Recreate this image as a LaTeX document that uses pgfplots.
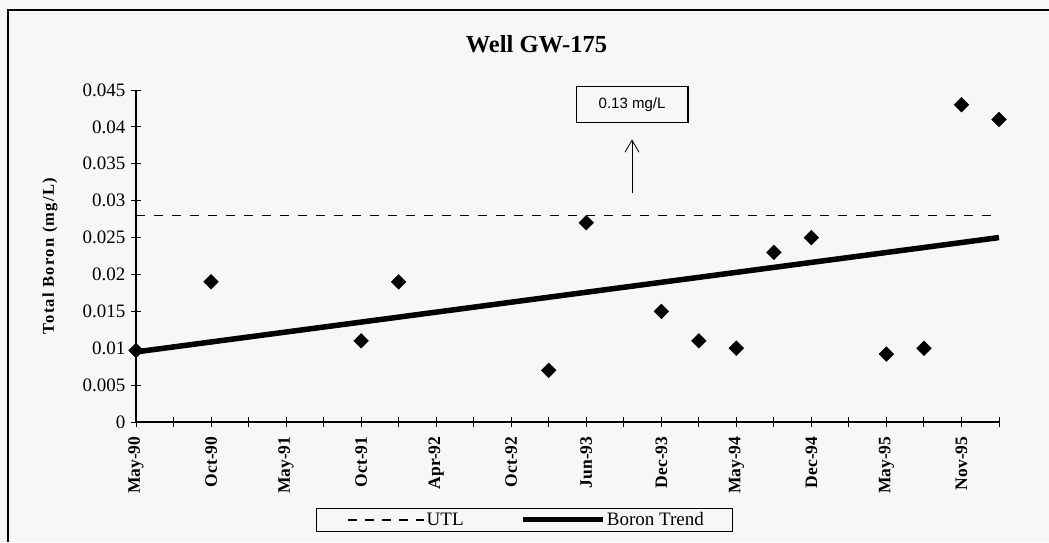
\documentclass[border=0pt]{standalone}
\usepackage{pgfplots}
\pgfplotsset{compat=1.18}
\usepackage{pgfplotstable}
\usepackage{fontspec}
\setmainfont{Liberation Serif}
\newfontfamily\sansf{Liberation Sans}
\newfontfamily\ylabf[LetterSpace=8]{Liberation Serif}
\usetikzlibrary{arrows.meta}
\definecolor{bg}{RGB}{247,247,247}

\pgfplotstableread{
x y
0 0.0097
2 0.019
6 0.011
7 0.019
11 0.007
12 0.027
14 0.015
15 0.011
16 0.010
17 0.023
18 0.025
20 0.0092
21 0.010
22 0.043
23 0.041
}\boron

\begin{document}
\begin{tikzpicture}
\fill[bg] (0,0) rectangle (1049pt,542pt);
\path[use as bounding box] (0,0) rectangle (1049pt,542pt);
\draw[line width=1.5pt] (8pt,0pt) -- (8pt,532pt) -- (1049pt,532pt);
\begin{axis}[
  at={(136pt,120pt)}, anchor=south west,
  width=863pt, height=332pt, scale only axis,
  xmin=0, xmax=23, ymin=0, ymax=0.045,
  clip=false,
  axis lines=left, axis line style={-, line width=1.2pt},
  xtick={0,...,23},
  xticklabels={May-90,,Oct-90,,May-91,,Oct-91,,Apr-92,,Oct-92,,Jun-93,,Dec-93,,May-94,,Dec-94,,May-95,,Nov-95,},
  ytick={0,0.005,0.01,0.015,0.02,0.025,0.03,0.035,0.04,0.045},
  yticklabels={0,0.005,0.01,0.015,0.02,0.025,0.03,0.035,0.04,0.045},
  scaled y ticks=false,
  tick align=center, major tick length=10pt,
  tick style={black, line width=1pt},
  xticklabel style={rotate=90, anchor=east, font=\fontsize{17.5}{20}\selectfont\bfseries},
  yticklabel style={font=\fontsize{19}{21}\selectfont},
  xticklabel shift=6pt,
  yticklabel shift=2pt,
  title={Well GW-175},
  title style={font=\fontsize{24.5}{26}\selectfont\bfseries, at={(axis description cs:0.464,1.0934)}, anchor=base},
  ylabel={Total Boron (mg/L)},
  ylabel style={font=\fontsize{16.5}{18}\ylabf\bfseries, at={(axis description cs:-0.0997,0.5)}, anchor=center},
  legend columns=2,
  legend style={at={(axis description cs:0.450,-0.295)}, anchor=center, draw=black, line width=1pt, fill=bg,
    inner xsep=0pt, inner ysep=2.5pt, font=\fontsize{19}{21}\selectfont,
    nodes={inner xsep=1.5pt, inner ysep=2pt}, cells={anchor=west}},
]
\addplot[only marks, mark=square*, mark size=5.2pt, mark options={rotate=45, fill=black, draw=black}, forget plot] table[x=x,y=y] {\boron};
\addplot[black, line width=1.8pt, dash pattern=on 9pt off 9pt,
  legend image code/.code={\path (-31pt,0pt); \draw[black, line width=1.8pt, dash pattern=on 9pt off 8pt] (0pt,0pt) -- (76pt,0pt);}]
  coordinates {(0,0.028) (23,0.028)};
\addlegendentry{UTL}
\addplot[black, line width=5.5pt,
  legend image code/.code={\path (-55pt,0pt); \draw[black, line width=5pt] (0pt,0pt) -- (80pt,0pt);}]
  coordinates {(0,0.0095) (23,0.025)};
\addlegendentry{Boron Trend\rule{27pt}{0pt}}
\draw[line width=1.2pt, fill=bg] (axis cs:11.73,0.04549) rectangle (axis cs:14.71,0.0406);
\node[font=\sansf\fontsize{15}{17}\selectfont] at (axis cs:13.22,0.04305) {0.13 mg/L};
\draw[line width=0.8pt, -{Straight Barb[length=12pt,width=14pt]}] (axis cs:13.22,0.031) -- (axis cs:13.22,0.0383);
\end{axis}
\end{tikzpicture}
\end{document}
